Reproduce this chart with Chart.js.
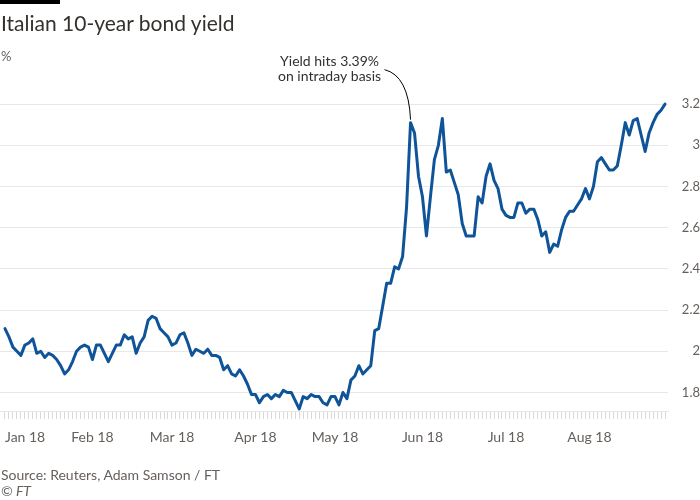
<!DOCTYPE html>
<html>
<head>
<meta charset="utf-8">
<script src="https://cdn.jsdelivr.net/npm/chart.js@4.4.0/dist/chart.umd.min.js"></script>
<style>
  html, body { margin: 0; padding: 0; background: #fff; }
  body { width: 700px; height: 500px; position: relative; overflow: hidden; font-family: 'Lato', sans-serif; }
  #wrap { position: absolute; left: 0; top: 0; width: 700px; height: 500px; }
  .bar { position: absolute; left: 0; top: 0; width: 60px; height: 4px; background: #000; }
  .txt { position: absolute; left: 1px; margin: 0; white-space: nowrap; line-height: 1; }
  h1.txt { top: 12px; font-size: 21px; font-weight: 400; color: #33302e; }
  .unit { top: 50px; font-size: 13px; color: #66605c; }
  .source { top: 468px; font-size: 14px; color: #66605c; }
  .copy { top: 484px; font-size: 14px; font-style: italic; color: #66605c; }
</style>
</head>
<body>
<div id="wrap"><canvas id="chart"></canvas></div>
<div class="bar"></div>
<h1 class="txt">Italian 10-year bond yield</h1>
<div class="txt unit">%</div>
<div class="txt source">Source: Reuters, Adam Samson / FT</div>
<div class="txt copy">© FT</div>
<script>
// ── Data: daily closes, one array per month (trading days) ───────────────
const jan = [2.11, 2.07, 2.02, 2.00, 1.98, 2.03, 2.04, 2.06, 1.99, 2.00, 1.97,
             1.99, 1.98, 1.96, 1.93, 1.89, 1.91, 1.95, 2.00, 2.02, 2.03, 2.02];
const feb = [1.96, 2.03, 2.03, 1.99, 1.95, 1.99, 2.03, 2.03, 2.08, 2.06,
             2.07, 1.99, 2.04, 2.07, 2.15, 2.17, 2.16, 2.11, 2.09, 2.07];
const mar = [2.03, 2.04, 2.08, 2.09, 2.04, 1.98, 2.01, 2.00, 1.99, 2.01, 1.98,
             1.98, 1.97, 1.91, 1.93, 1.89, 1.88, 1.91, 1.88, 1.84, 1.79];
const apr = [1.79, 1.75, 1.78, 1.79, 1.77, 1.79, 1.78, 1.81, 1.80, 1.80,
             1.76, 1.72, 1.78, 1.77, 1.79, 1.78, 1.78, 1.75, 1.74, 1.78];
const may = [1.78, 1.74, 1.80, 1.77, 1.86, 1.88, 1.93, 1.89, 1.91, 1.93, 2.10,
             2.11, 2.22, 2.33, 2.33, 2.41, 2.40, 2.46, 2.70, 3.11, 3.06, 2.85];
const jun = [2.75, 2.56, 2.75, 2.93, 3.00, 3.13, 2.87, 2.88, 2.82, 2.76, 2.62,
             2.56, 2.56, 2.56, 2.75, 2.72, 2.85, 2.91, 2.83, 2.79, 2.69];
const jul = [2.66, 2.65, 2.65, 2.72, 2.72, 2.67, 2.69, 2.69, 2.64, 2.56, 2.58,
             2.48, 2.52, 2.51, 2.59, 2.65, 2.68, 2.68, 2.71, 2.74, 2.79];
const aug = [2.74, 2.80, 2.92, 2.94, 2.91, 2.88, 2.88, 2.90, 3.00, 3.11,
             3.05, 3.12, 3.13, 3.05, 2.97, 3.06, 3.11, 3.15, 3.17, 3.20];

const monthLabels = ['Jan 18', 'Feb 18', 'Mar 18', 'Apr 18', 'May 18', 'Jun 18', 'Jul 18', 'Aug 18'];
const monthData   = [jan, feb, mar, apr, may, jun, jul, aug];
const yTicks      = [1.8, 2, 2.2, 2.4, 2.6, 2.8, 3, 3.2];
const noteLines   = ['Yield hits 3.39%', 'on intraday basis'];

// flatten to x = trading-day index
const points = [];
const monthStarts = [];
monthData.forEach(arr => {
  monthStarts.push(points.length);
  arr.forEach(v => points.push({ x: points.length, y: v }));
});
const mayStart = monthStarts[4];
const peakIdx  = mayStart + may.indexOf(Math.max(...may));

const INK  = '#33302e';
const GREY = '#66605c';
const FONT = "'Lato', sans-serif";

// ── Month labels + annotation ─────────────────────────────────────────────
const ftDecor = {
  id: 'ftDecor',
  afterDraw(chart) {
    const { ctx, chartArea, scales: { x, y } } = chart;
    ctx.save();
    ctx.font = '14px ' + FONT;
    ctx.fillStyle = GREY;
    ctx.textBaseline = 'alphabetic';
    ctx.textAlign = 'left';
    monthStarts.forEach((idx, i) => {
      const w  = ctx.measureText(monthLabels[i]).width;
      const px = Math.max(x.getPixelForValue(idx) - w / 2, chartArea.left + 5);
      ctx.fillText(monthLabels[i], px, 442);
    });

    // leader to the May peak
    const ax = x.getPixelForValue(peakIdx);
    const ay = y.getPixelForValue(points[peakIdx].y);
    ctx.strokeStyle = '#000';
    ctx.lineWidth = 1;
    ctx.beginPath();
    ctx.moveTo(ax - 26, ay - 53);
    ctx.quadraticCurveTo(ax - 2, ay - 47, ax, ay - 3);
    ctx.stroke();

    ctx.fillStyle = INK;
    ctx.font = '14px ' + FONT;
    ctx.textAlign = 'center';
    ctx.fillText(noteLines[0], ax - 81, ay - 57);
    ctx.fillText(noteLines[1], ax - 81, ay - 42);
    ctx.restore();
  },
};

new Chart(document.getElementById('chart'), {
  type: 'line',
  data: {
    datasets: [{
      data: points,
      borderColor: '#0f5499',
      borderWidth: 3,
      pointRadius: 0,
      tension: 0,
      borderJoinStyle: 'round',
      borderCapStyle: 'round',
    }],
  },
  options: {
    responsive: true,
    maintainAspectRatio: false,
    animation: false,
    layout: { padding: { top: 83.5, left: 0, right: 0, bottom: 0 } },
    plugins: { legend: { display: false }, tooltip: { enabled: false } },
    scales: {
      x: {
        type: 'linear',
        min: -1.25,
        max: points.length - 0.25,
        afterBuildTicks: s => { s.ticks = points.map(p => ({ value: p.x })); },
        afterFit: s => { s.height = 89; s.paddingLeft = 0; s.paddingRight = 0; },
        ticks: { display: false },
        grid: { drawOnChartArea: false, tickLength: 8, color: '#dcd8d4' },
        border: { display: true, color: '#e6e6e6' },
      },
      y: {
        position: 'right',
        min: 1.71,
        max: 3.3,
        afterBuildTicks: s => { s.ticks = yTicks.map(v => ({ value: v })); },
        afterFit: s => { s.width = 32; },
        ticks: {
          color: GREY,
          font: { family: FONT, size: 13 },
          padding: 8,
          crossAlign: 'far',
          callback: v => String(+v.toFixed(1)),
        },
        grid: { color: '#e8e8e8', drawTicks: false },
        border: { display: false },
      },
    },
  },
  plugins: [ftDecor],
});
</script>
</body>
</html>
